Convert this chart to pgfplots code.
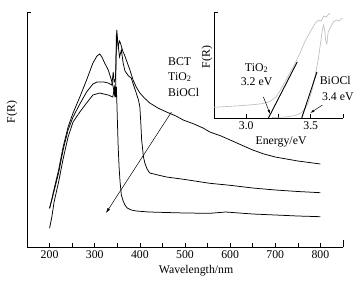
\documentclass[border=0pt]{standalone}
\usepackage{fontspec}
\setmainfont{Liberation Serif}
\usepackage{pgfplots}
\pgfplotsset{compat=1.18}
\usetikzlibrary{arrows.meta}
\newcommand{\fs}{\fontsize{11.8}{14}\selectfont}
\begin{document}
\begin{tikzpicture}
\useasboundingbox (0,0) rectangle (356pt,285pt);
\begin{axis}[
  at={(27pt,38pt)}, anchor=origin,
  scale only axis, width=316pt, height=235pt,
  xmin=150, xmax=850, ymin=0, ymax=235,
  axis x line=bottom, axis y line=left,
  axis line style={-, line width=0.8pt},
  tick align=inside,
  xtick={200,300,...,800},
  minor xtick={250,350,...,750},
  extra x ticks={850}, extra x tick labels={},
  extra x tick style={major tick length=7pt},
  ytick={235}, yticklabels={},
  major tick length=4pt, minor tick length=4pt,
  tick style={line width=0.6pt, black},
  /pgf/number format/assume math mode=true,
  /pgf/number format/.cd, 1000 sep={}, /pgfplots/.cd,
  tick label style={font=\fs},
  xlabel={Wavelength/nm}, ylabel={F(R)},
  label style={font=\fs},
  xlabel style={at={(axis description cs:0.535,0)}, anchor=center, yshift=-24pt},
  ylabel style={at={(axis description cs:-0.047,0.574)}, anchor=center},
  clip=false,
]
% BCT
\addplot[black, line width=0.75pt] coordinates {
(200,38.7)(205,47)(210,56)(220,74)(230,97)(241,117)(252,130)(267,143)(282,155)(296,163)(305,165)(311,165)(320,165)(330,164)(338,162)(341,175)(343,165)(346,168)(349,217)(352,200)(355,206)(357,204)(362,196)(366,192)(370,187)(378,177)(385,167)(392,160)(400,154)(410,149)(422,144)(440,139)(459,135)(480,131)(496,127)(520,123)(540,119)(555,115)(580,111)(600,107)(625,102)(650,97)(675,93)(700,90)(725,88)(750,86)(775,84.5)(800,83)
};
% TiO2
\addplot[black, line width=0.75pt] coordinates {
(200,18.7)(205,30)(210,45)(220,65)(230,88)(241,110)(252,125)(267,135)(282,144)(296,152)(311,154)(320,153)(330,152)(340,150)(344,160)(346,150)(348,212)(351,205)(355,190)(359,197)(363,184)(367,176)(375,171)(381,169)(386,162)(392,154)(397,147)(400,140)(402,125)(404,107)(408,90)(411,84)(416,78)(422,74)(440,72)(459,70)(500,67.5)(555,63.7)(600,61.7)(650,59)(700,57)(750,55.5)(800,54.3)
};
% BiOCl
\addplot[black, line width=0.75pt] coordinates {
(200,38.7)(205,48)(210,58)(220,77)(230,100)(241,120)(252,134)(267,150)(282,167)(296,184)(305,191)(311,193)(316,190)(322,184)(330,177)(337,167)(341,160)(344,152)(346,158)(347,150)(348,160)(350,130)(352,100)(354,80)(356,66)(359,52)(363,46)(367,42)(372,39)(381,37)(392,36)(420,35)(459,34.5)(500,34)(555,33.7)(590,35)(620,34)(650,33)(700,32)(750,31)(800,30.3)
};
\node[font=\fs, anchor=west] at (axis cs:455,185) {BCT};
\node[font=\fs, anchor=west] at (axis cs:455,170) {TiO\textsubscript{2}};
\node[font=\fs, anchor=west] at (axis cs:455,155) {BiOCl};
\draw[-{Latex[length=5pt,width=3pt]}, line width=0.5pt] (axis cs:470,135) -- (axis cs:325,34);
\end{axis}

\begin{axis}[
  at={(214pt,167pt)}, anchor=origin,
  scale only axis, width=129pt, height=106pt,
  xmin=2.75, xmax=3.75, ymin=0, ymax=106,
  axis x line=bottom, axis y line=left,
  axis line style={-, line width=0.8pt},
  tick align=inside,
  xtick={3.0,3.5}, xticklabels={3.0,3.5},
  extra x ticks={3.25,3.75}, extra x tick labels={},
  ytick={106}, yticklabels={},
  major tick length=4pt,
  tick style={line width=0.6pt, black},
  tick label style={font=\fs},
  xlabel={Energy/eV}, ylabel={F(R)},
  label style={font=\fs},
  xlabel style={at={(axis description cs:0.52,0)}, anchor=center, yshift=-23.5pt},
  ylabel style={at={(axis description cs:-0.054,0.575)}, anchor=center},
  clip=false,
]
\addplot[gray!55, line width=0.6pt] coordinates {
(2.75,10.7)(2.85,11.5)(2.95,12.3)(3.05,13.3)(3.12,14.3)(3.17,15.8)(3.2,18)(3.23,21)(3.26,27)(3.3,36)(3.35,48)(3.38,55)(3.42,66)(3.46,78)(3.5,87)(3.535,95)(3.56,98)(3.58,97)(3.6,102)(3.62,101)(3.64,104)(3.65,105)
};
\addplot[gray!55, line width=0.6pt] coordinates {
(3.2,0.5)(3.3,1)(3.36,2)(3.4,3.5)(3.43,5.5)(3.46,10)(3.48,15)(3.51,28)(3.535,43)(3.56,60)(3.574,73)(3.59,88)(3.6,93)(3.61,86)(3.615,78)(3.625,74)(3.635,86)(3.65,90)(3.675,96)(3.7,98)(3.72,97)(3.745,100)
};
\addplot[black, line width=0.9pt] coordinates {(3.172,0)(3.395,56)};
\addplot[black, line width=0.9pt] coordinates {(3.43,0)(3.548,46)};
\node[font=\fs] at (axis cs:3.08,50) {TiO\textsubscript{2}};
\node[font=\fs] at (axis cs:3.08,36) {3.2 eV};
\node[font=\fs] at (axis cs:3.69,38) {BiOCl};
\node[font=\fs] at (axis cs:3.71,21) {3.4 eV};
\draw[-{Latex[length=4pt,width=2.5pt]}, line width=0.5pt] (axis cs:3.133,21) -- (axis cs:3.185,4);
\draw[-{Latex[length=4pt,width=2.5pt]}, line width=0.5pt] (axis cs:3.59,13) -- (axis cs:3.497,5);
\end{axis}
\end{tikzpicture}
\end{document}
